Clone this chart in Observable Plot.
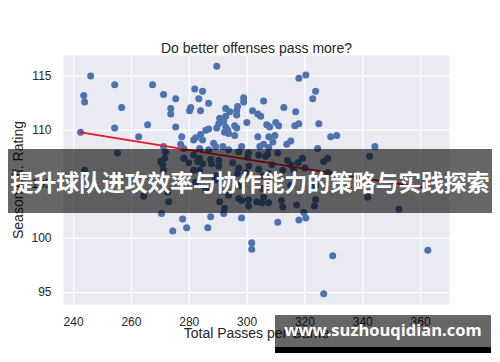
<!DOCTYPE html>
<html>
<head>
<meta charset="utf-8">
<script src="https://cdn.jsdelivr.net/npm/d3@7"></script>
<script src="https://cdn.jsdelivr.net/npm/@observablehq/plot@0.6"></script>
<style>
  html, body { margin: 0; padding: 0; background: #fff; }
  #wrap { position: relative; width: 500px; height: 362px; overflow: hidden; }
  #banner { position: absolute; left: 8px; top: 149px; width: 484px; height: 64px;
    background: rgba(0,0,0,0.6); color: #fff; font-family: "Noto Sans CJK SC", sans-serif;
    font-weight: 700; font-size: 23px; line-height: 64px; text-align: center; white-space: nowrap; letter-spacing: -0.2px; }
  #wm { position: absolute; left: 275px; top: 315px; width: 216px; height: 38px;
    background: rgba(0,0,0,0.6); }
  #wm .strip { position: absolute; left: 0; bottom: 0; width: 100%; height: 6px; background: #000; }
  #wm .txt { position: absolute; left: 0; top: 3px; width: 100%; text-align: center; color: #fff;
    font-family: "Open Sans", sans-serif; font-weight: 700; font-size: 16.5px; line-height: 24px; white-space: nowrap; }
</style>
</head>
<body>
<div id="wrap">
  <div id="chart"></div>
  <div id="banner">提升球队进攻效率与协作能力的策略与实践探索</div>
  <div id="wm"><div class="txt">www.suzhouqidian.com</div><div class="strip"></div></div>
</div>
<script>
const title = "Do better offenses pass more?";
const xLabel = "Total Passes per Game";
const yLabel = "Season Off. Rating";
const xTicks = [240, 260, 280, 300, 320, 340, 360];
const yTicks = [95, 100, 105, 110, 115];

const passes = [
  245.9,243.5,243.8,254.2,256.6,267.3,271.1,275.3,273.6,273.6,
  281.9,284.6,283.3,286.7,280.5,280.1,283.9,289.5,292.6,294.0,
  296.7,296.4,296.4,298.8,298.8,301.9,303.7,304.7,305.7,312.7,
  316.8,317.9,320.3,323.7,322.7,292.6,291.9,290.2,289.5,286.7,
  285.7,283.9,284.6,282.2,292.6,293.3,292.2,293.6,295.7,296.4,
  295.7,299.9,306.8,307.8,309.9,310.9,303.7,307.5,309.6,308.9,
  316.5,317.9,324.8,328.9,331.0,313.7,315.1,298.1,304.4,305.7,
  307.5,288.4,289.1,291.6,324.4,242.4,254.2,265.6,262.5,275.3,
  277.4,277.0,281.5,271.1,278.1,344.2,290.5,255.2,243.8,264.2,
  270.1,270.8,271.1,271.8,271.5,272.5,272.9,270.4,278.1,279.8,
  281.5,282.9,281.5,283.6,282.2,274.3,277.7,279.1,286.4,287.4,
  291.9,292.2,298.1,310.6,317.9,320.3,319.6,301.6,301.6,329.6,
  326.5,362.5,352.5,341.7,342.4,290.5,297.1,298.1,300.5,300.5,
  303.3,305.0,305.7,307.4,311.9,312.3,317.1,323.3,323.7,283.6,
  286.7,293.6,297.1,283.6,287.4,290.2,295.0,300.2,304.0,306.4,
  314.0,319.2,326.5,327.9,297.1,300.6,304.0,308.6,317.6,320.0,
  328.0,296.7,299.5,305.4,307.4,312.3,315.1,293.6,297.8,305.4,
  315.1,289.1,285.7,323.7,289.1,287.7,290.2,284.6,300.5,307.1,
  310.6,316.1
];
const rating = [
  115.0,113.2,112.6,114.2,112.1,114.2,113.3,112.9,112.0,111.5,
  113.8,113.6,112.9,112.5,112.1,111.8,111.8,115.9,112.0,111.7,
  112.2,111.8,111.4,113.0,112.6,111.8,111.5,111.3,112.7,112.1,
  111.7,114.8,115.1,113.6,112.9,111.3,110.8,110.6,110.2,110.1,
  110.0,109.6,109.1,109.3,110.3,110.0,109.8,109.7,110.4,110.2,
  109.5,110.7,110.5,110.3,110.7,110.4,109.4,109.4,109.5,108.9,
  110.4,110.6,110.6,109.4,109.5,108.7,109.0,108.5,108.5,108.7,
  108.4,108.8,108.5,108.5,108.3,109.8,110.2,110.5,109.4,110.3,
  109.4,108.7,109.1,108.5,108.3,108.5,111.1,107.9,106.3,103.9,
  107.1,106.8,106.3,108.0,107.4,104.3,103.4,102.3,107.4,107.0,
  107.7,107.1,106.3,106.3,105.2,100.7,101.8,101.0,101.0,102.0,
  102.3,102.8,101.9,101.5,101.7,101.9,102.4,99.6,99.0,98.4,
  94.9,98.9,102.7,103.8,107.6,103.4,103.7,103.5,103.6,103.0,
  103.4,103.3,103.8,103.3,103.5,102.9,103.1,103.0,103.6,108.3,
  108.2,108.2,108.0,107.4,107.3,107.2,107.0,107.5,107.7,107.6,
  107.2,107.4,107.1,107.4,106.5,106.7,106.4,106.8,107.0,106.5,
  106.1,106.0,106.1,105.8,106.0,106.3,106.8,104.0,104.9,104.6,
  104.9,105.4,104.5,104.9,105.8,106.9,106.7,106.9,107.9,107.8,
  107.9,106.3
];
// fitted line end points
const regPasses = [242.4, 362.5];
const regRating = [109.8, 104.6];

const pts = passes.map((p, i) => ({x: p, y: rating[i]}));
const reg = regPasses.map((p, i) => ({x: p, y: regRating[i]}));

const chart = Plot.plot({
  width: 500,
  height: 362,
  marginTop: 55,
  marginLeft: 63,
  marginRight: 51,
  marginBottom: 58,
  style: {fontFamily: "'Liberation Sans', Arial, sans-serif", fontSize: "12px", color: "#262626", background: "#fff", overflow: "visible"},
  x: {domain: [236.5, 370], ticks: xTicks, tickSize: 0, tickPadding: 13, label: null},
  y: {domain: [93.9, 116.9], ticks: yTicks, tickSize: 0, tickPadding: 12, label: null},
  marks: [
    Plot.frame({fill: "#eaeaf2", stroke: null}),
    Plot.ruleX(xTicks, {x: d => d, stroke: "#fff", strokeWidth: 1.2}),
    Plot.ruleY(yTicks, {y: d => d, stroke: "#fff", strokeWidth: 1.2}),
    Plot.dot(pts, {x: "x", y: "y", r: 3.5, fill: "#4c72b0", stroke: null}),
    Plot.line(reg, {x: "x", y: "y", stroke: "#f0141e", strokeWidth: 1.6}),
    Plot.text([title], {text: d => d, frameAnchor: "top", dy: -12.5, fontSize: 14, fill: "#262626"}),
    Plot.text([xLabel], {text: d => d, frameAnchor: "bottom", dy: 33.5, fontSize: 14, fill: "#262626"}),
    Plot.text([yLabel], {text: d => d, frameAnchor: "left", textAnchor: "middle", dx: -45, rotate: -90, fontSize: 14, fill: "#262626"})
  ]
});
document.getElementById("chart").appendChild(chart);
</script>
</body>
</html>
